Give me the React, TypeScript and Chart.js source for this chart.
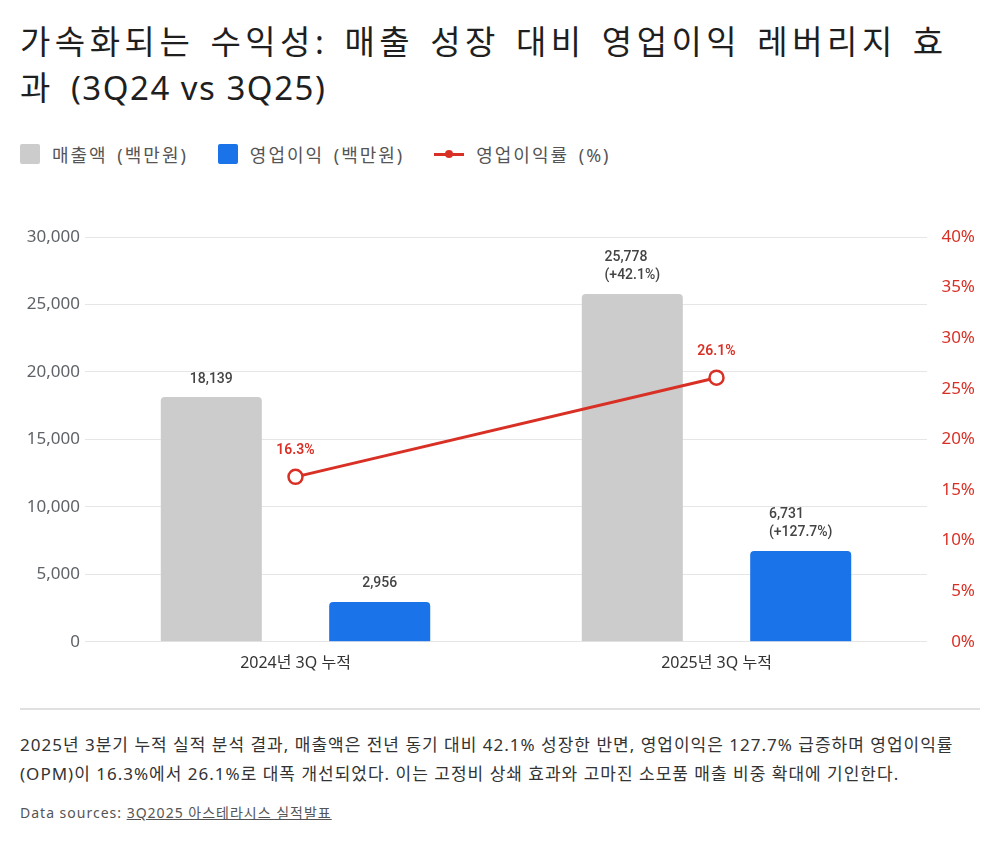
import React, { useEffect, useRef } from "react";
import { Chart, registerables } from "chart.js";

Chart.register(...registerables);

const categories = ["2024년 3Q 누적", "2025년 3Q 누적"];
const revenue = [18139, 25778];
const operatingProfit = [2956, 6731];
const opMargin = [16.3, 26.1];
const revenueLabels = [["18,139"], ["25,778", "(+42.1%)"]];
const profitLabels = [["2,956"], ["6,731", "(+127.7%)"]];
const marginLabels = ["16.3%", "26.1%"];

const GRAY = "#cccccc";
const BLUE = "#1a73e8";
const RED = "#d93025";
const FONT = "'Noto Sans', 'Noto Sans CJK KR', sans-serif";
const LABEL_FONT = "Roboto, 'Noto Sans CJK KR', sans-serif";

// Draws value captions above bars and the margin line points
const valueLabelPlugin = {
  id: "valueLabels",
  afterDatasetsDraw(chart: any) {
    const ctx = chart.ctx;
    ctx.save();
    ctx.textBaseline = "middle";
    const drawBlock = (meta: any, labels: string[][]) => {
      meta.data.forEach((el: any, i: number) => {
        const lines = labels[i];
        ctx.font = `500 14px ${LABEL_FONT}`;
        ctx.fillStyle = "#444444";
        const w = Math.max(...lines.map((l) => ctx.measureText(l).width));
        const x0 = el.x - w / 2;
        const lh = 18;
        lines.forEach((l, k) => {
          const y = el.y - 18 - (lines.length - 1 - k) * lh;
          ctx.textAlign = "left";
          ctx.fillText(l, x0, y);
        });
      });
    };
    drawBlock(chart.getDatasetMeta(1), revenueLabels);
    drawBlock(chart.getDatasetMeta(2), profitLabels);
    const lineMeta = chart.getDatasetMeta(0);
    ctx.font = `600 14px ${LABEL_FONT}`;
    ctx.fillStyle = RED;
    ctx.textAlign = "center";
    lineMeta.data.forEach((el: any, i: number) => {
      ctx.fillText(marginLabels[i], el.x, el.y - 26);
    });
    ctx.restore();
  },
};

function ComboChart() {
  const ref = useRef<HTMLCanvasElement>(null);
  useEffect(() => {
    if (!ref.current) return;
    const chart = new Chart(ref.current, {
      type: "bar",
      data: {
        labels: categories,
        datasets: [
          {
            type: "line",
            label: "영업이익률 (%)",
            data: opMargin,
            yAxisID: "y1",
            borderColor: RED,
            borderWidth: 3,
            backgroundColor: "#ffffff",
            pointBackgroundColor: "#ffffff",
            pointBorderColor: RED,
            pointBorderWidth: 2.5,
            pointRadius: 7,
            order: 0,
          },
          {
            type: "bar",
            label: "매출액 (백만원)",
            data: revenue,
            yAxisID: "y",
            backgroundColor: GRAY,
            borderRadius: { topLeft: 4, topRight: 4 },
            borderSkipped: "bottom",
            categoryPercentage: 0.8,
            barPercentage: 0.6,
            order: 1,
          },
          {
            type: "bar",
            label: "영업이익 (백만원)",
            data: operatingProfit,
            yAxisID: "y",
            backgroundColor: BLUE,
            borderRadius: { topLeft: 4, topRight: 4 },
            borderSkipped: "bottom",
            categoryPercentage: 0.8,
            barPercentage: 0.6,
            order: 1,
          },
        ],
      } as any,
      options: {
        responsive: false,
        animation: false,
        layout: { padding: { top: 37, bottom: 5, left: 0, right: 25 } },
        plugins: { legend: { display: false }, tooltip: { enabled: false } },
        scales: {
          x: {
            grid: { display: false, drawTicks: false },
            border: { display: false },
            ticks: { color: "#333333", font: { family: FONT, size: 16 }, padding: 12 },
          },
          y: {
            position: "left",
            min: 0,
            max: 30000,
            ticks: {
              stepSize: 5000,
              color: "#5f6368",
              font: { family: FONT, size: 17 },
              padding: 5,
              callback: (v: any) => Number(v).toLocaleString("en-US"),
            },
            grid: { color: "#e6e6e6", lineWidth: 1, drawTicks: false },
            border: { display: false },
            afterFit: (s: any) => {
              s.width = 85;
            },
          },
          y1: {
            position: "right",
            min: 0,
            max: 40,
            ticks: {
              stepSize: 5,
              color: RED,
              font: { family: FONT, size: 17 },
              padding: 8,
              crossAlign: "far",
              callback: (v: any) => `${v}%`,
            },
            grid: { display: false, drawTicks: false },
            border: { display: false },
            afterFit: (s: any) => {
              s.width = 48;
            },
          },
        },
      } as any,
      plugins: [valueLabelPlugin],
    });
    return () => chart.destroy();
  }, []);
  return <canvas ref={ref} width={1000} height={490} style={{ display: "block" }} />;
}

export default function App() {
  const legendText: React.CSSProperties = {
    fontSize: 18,
    letterSpacing: 2,
    wordSpacing: 3,
    color: "#555",
    marginLeft: 12,
  };
  return (
    <div
      style={{
        position: "absolute",
        left: 0,
        top: 0,
        width: 1000,
        height: 843,
        background: "#fff",
        fontFamily: FONT,
        overflow: "hidden",
      }}
    >
      <div
        style={{
          position: "absolute",
          left: 20,
          top: 19,
          width: 980,
          fontSize: 33,
          letterSpacing: 4.5,
          wordSpacing: 3,
          whiteSpace: "nowrap",
          lineHeight: "46px",
          color: "#1f1f1f",
          fontWeight: 400,
        }}
      >
        가속화되는 수익성: 매출 성장 대비 영업이익 레버리지 효
        <br />과 <span style={{ letterSpacing: 1.5, wordSpacing: 0 }}>(3Q24 vs 3Q25)</span>
      </div>
      <div
        style={{
          position: "absolute",
          left: 20,
          top: 142,
          height: 24,
          display: "flex",
          alignItems: "center",
          whiteSpace: "nowrap",
        }}
      >
        <span style={{ width: 20, height: 20, background: GRAY, borderRadius: 2, display: "inline-block" }} />
        <span style={legendText}>매출액 (백만원)</span>
        <span style={{ width: 20, height: 20, background: BLUE, borderRadius: 2, display: "inline-block", marginLeft: 30 }} />
        <span style={legendText}>영업이익 (백만원)</span>
        <span style={{ position: "relative", width: 30, height: 20, marginLeft: 30, display: "inline-block" }}>
          <span style={{ position: "absolute", left: 0, top: 8.5, width: 30, height: 3, background: RED }} />
          <span
            style={{
              position: "absolute",
              left: 11,
              top: 6,
              width: 8,
              height: 8,
              borderRadius: 4,
              background: RED,
            }}
          />
        </span>
        <span style={legendText}>영업이익률 (%)</span>
      </div>
      <div style={{ position: "absolute", left: 0, top: 200 }}>
        <ComboChart />
      </div>
      <div style={{ position: "absolute", left: 20, top: 708, width: 960, height: 2, background: "#e0e0e0" }} />
      <div
        style={{
          position: "absolute",
          left: 20,
          top: 730,
          width: 960,
          fontSize: 17,
          letterSpacing: 1.0,
          lineHeight: "29px",
          color: "#333",
        }}
      >
        2025년 3분기 누적 실적 분석 결과, 매출액은 전년 동기 대비 42.1% 성장한 반면, 영업이익은 127.7% 급증하며 영업이익률
        (OPM)이 16.3%에서 26.1%로 대폭 개선되었다. 이는 고정비 상쇄 효과와 고마진 소모품 매출 비중 확대에 기인한다.
      </div>
      <div style={{ position: "absolute", left: 20, top: 802, fontSize: 14, letterSpacing: 1, color: "#555" }}>
        Data sources: <span style={{ textDecoration: "underline" }}>3Q2025 아스테라시스 실적발표</span>
      </div>
    </div>
  );
}
